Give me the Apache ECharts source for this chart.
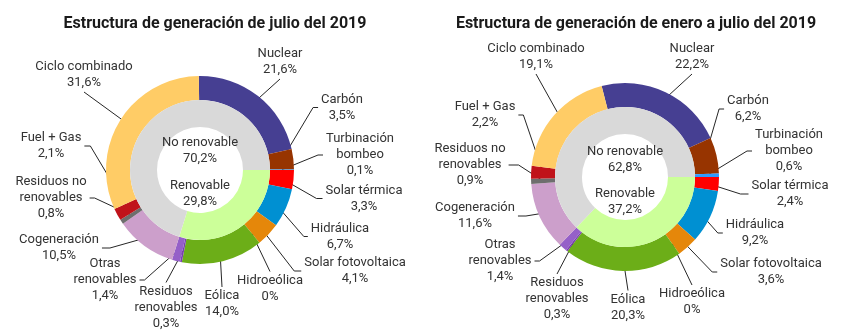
<!DOCTYPE html>
<html><head><meta charset="utf-8">
<script src="https://cdn.jsdelivr.net/npm/echarts@6/dist/echarts.min.js"></script>
<style>html,body{margin:0;padding:0;background:#fff}#c{width:850px;height:336px}</style>
</head><body><div id="c"></div>
<script>
// ---- data ----
const categories = ['Nuclear','Carbón','Turbinación bombeo','Solar térmica','Hidráulica','Solar fotovoltaica','Hidroeólica','Eólica','Residuos renovables','Otras renovables','Cogeneración','Residuos no renovables','Fuel + Gas','Ciclo combinado'];
const labelNames = ['Nuclear','Carbón','Turbinación\nbombeo','Solar térmica','Hidráulica','Solar fotovoltaica','Hidroeólica','Eólica','Residuos\nrenovables','Otras\nrenovables','Cogeneración','Residuos no\nrenovables','Fuel + Gas','Ciclo combinado'];
const julio2019 = [21.6,3.5,0.1,3.3,6.7,4.1,0,14.0,0.3,1.4,10.5,0.8,2.1,31.6];
const eneroJulio2019 = [22.2,6.2,0.6,2.4,9.2,3.6,0,20.3,0.3,1.4,11.6,0.9,2.2,19.1];
const groups = ['Renovable','No renovable'];
const julioGroups = [29.8,70.2];
const eneroJulioGroups = [37.2,62.8];
const titles = ['Estructura de generación de julio del 2019','Estructura de generación de enero a julio del 2019'];

// ---- styles ----
const colors = ['#463F92','#973400','#2E9BFF','#FF0000','#0090D2','#E5870A','#3070C0','#6CAE18','#7A3FB0','#9560C8','#CC9FCB','#6E6E6E','#C0131A','#FFCC66'];
const groupColors = ['#CCFF99','#D9D9D9'];
const FONT = 'Roboto';
const TXT = '#333333';

// label placement (layout only)
const layoutL = [
  {x:280,y:62,side:'bottom'},
  {x:342,y:107.5,side:'left',tick:5},
  {x:360,y:155,side:'left',tick:5},
  {x:364,y:198.5,side:'left',tick:6},
  {x:340,y:236.5,side:'left',tick:4},
  {x:355,y:271,side:'left',tick:7},
  {x:270,y:288.5,side:'top'},
  {x:222,y:304,side:'top'},
  {x:166,y:307.5,side:'top'},
  {x:105,y:280,side:'right',tick:5},
  {x:59,y:248,side:'right',tick:8},
  {x:51,y:198,side:'right',tick:5},
  {x:51,y:146,side:'right',tick:6},
  {x:84,y:75,side:'bottom'}
];
const layoutR = [
  {x:692,y:57,side:'bottom'},
  {x:748,y:109,side:'left',tick:5},
  {x:789,y:151,side:'left',tick:5},
  {x:790,y:194,side:'left',tick:8},
  {x:755,y:233,side:'left',tick:5},
  {x:771,y:272,side:'left',tick:5},
  {x:692,y:302,side:'top'},
  {x:628,y:307.5,side:'top'},
  {x:557,y:299,side:'top'},
  {x:500,y:261,side:'right',tick:5},
  {x:475,y:216,side:'right',tick:8},
  {x:470,y:165,side:'right',tick:10},
  {x:485,y:115,side:'right',tick:5},
  {x:536,y:57,side:'bottom'}
];
const centerL = [200,170], centerR = [625,177];
const innerPosL = [[200,193.5],[200,151]];
const innerPosR = [[625,202],[625,159.5]];

function fmt(v){ return v === 0 ? '0%' : v.toFixed(1).replace('.', ',') + '%'; }

function outerLayout(layout, center, rMid){
  return function(p){
    const L = layout[p.dataIndex];
    const w = p.labelRect.width, h = p.labelRect.height;
    const res = {x:L.x, y:L.y, align:'center', verticalAlign:'middle'};
    const pts = p.labelLinePoints;
    if (!pts) return res;
    const dx = pts[0][0]-center[0], dy = pts[0][1]-center[1];
    const d = Math.sqrt(dx*dx+dy*dy) || 1;
    const p0 = [center[0]+dx/d*rMid, center[1]+dy/d*rMid];
    const g = 3;
    let a, e;
    if (L.side === 'left'){ a=[L.x-w/2-g, L.y]; e=[a[0]-L.tick, a[1]]; }
    else if (L.side === 'right'){ a=[L.x+w/2+g, L.y]; e=[a[0]+L.tick, a[1]]; }
    else if (L.side === 'top'){ a=[L.x, L.y-h/2-g+2]; e=a; }
    else { a=[L.x, L.y+h/2+g-2]; e=a; }
    res.labelLinePoints = [p0, e, a];
    return res;
  };
}
function innerLayout(pos){
  return function(p){
    return {x:pos[p.dataIndex][0], y:pos[p.dataIndex][1], align:'center', verticalAlign:'middle'};
  };
}
function startFor(vals){ return (vals[0]+vals[1]+vals[2]) / vals.reduce((s,v)=>s+v,0) * 360; }

const labelStyle = {color:TXT, fontSize:13, lineHeight:16, fontFamily:FONT};

function outerSeries(vals, center, layout){
  return {
    type:'pie', center:center, radius:[70,94], startAngle:startFor(vals), clockwise:true,
    avoidLabelOverlap:false, silent:true, animation:false,
    itemStyle:{borderWidth:0},
    data: categories.map((c,i)=>({name:c, value:vals[i], itemStyle:{color:colors[i]}})),
    label: Object.assign({show:true, position:'outside', formatter:p=>labelNames[p.dataIndex]+'\n'+fmt(p.value)}, labelStyle),
    labelLine:{show:true, length:5, length2:5, smooth:false, lineStyle:{color:'#262626', width:1}},
    labelLayout: outerLayout(layout, center, 82)
  };
}
function innerSeries(vals, center, pos){
  return {
    type:'pie', center:center, radius:[43,70], startAngle:0, clockwise:true,
    avoidLabelOverlap:false, silent:true, animation:false,
    itemStyle:{borderWidth:0},
    data: groups.map((g,i)=>({name:g, value:vals[i], itemStyle:{color:groupColors[i]}})),
    label: Object.assign({show:true, position:'inside', formatter:p=>p.name+'\n'+fmt(p.value)}, labelStyle),
    labelLine:{show:false},
    labelLayout: innerLayout(pos)
  };
}

const chart = echarts.init(document.getElementById('c'), null, {renderer:'canvas'});
chart.setOption({
  backgroundColor:'#ffffff',
  animation:false,
  title:[
    {text:titles[0], left:210, top:11, textAlign:'center', textStyle:{fontFamily:FONT, fontSize:16, fontWeight:'bold', color:'#1a1a1a'}},
    {text:titles[1], left:631, top:11, textAlign:'center', textStyle:{fontFamily:FONT, fontSize:16, fontWeight:'bold', color:'#1a1a1a'}}
  ],
  series:[
    outerSeries(julio2019, centerL, layoutL),
    innerSeries(julioGroups, centerL, innerPosL),
    outerSeries(eneroJulio2019, centerR, layoutR),
    innerSeries(eneroJulioGroups, centerR, innerPosR)
  ]
});
</script></body></html>
